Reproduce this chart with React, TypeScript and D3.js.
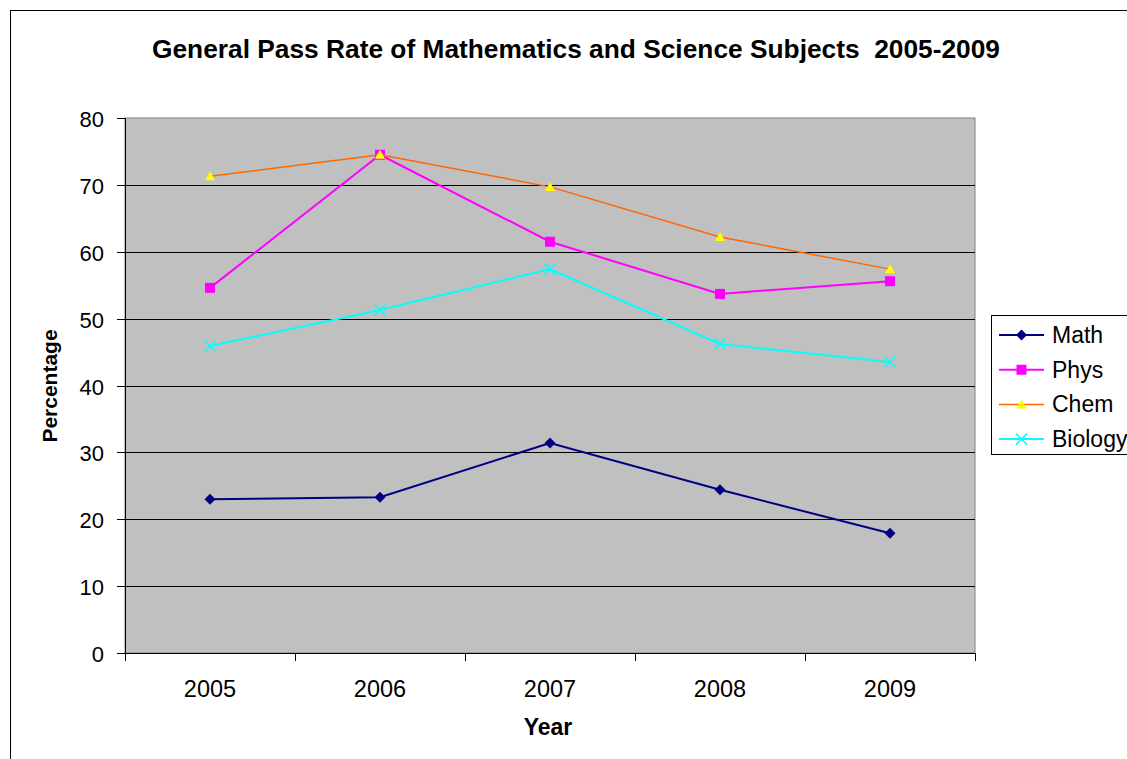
import { useEffect, useRef } from 'react';
import * as d3 from 'd3';

const years = ['2005', '2006', '2007', '2008', '2009'];
const math = [23.0, 23.3, 31.4, 24.4, 17.9];
const phys = [54.6, 74.5, 61.5, 53.7, 55.6];
const chem = [71.3, 74.5, 69.7, 62.2, 57.4];
const biology = [45.9, 51.3, 57.4, 46.2, 43.5];
const yTicks = [0, 10, 20, 30, 40, 50, 60, 70, 80];

const seriesList = [
  { name: 'Math', values: math, stroke: '#000080', fill: '#000080', marker: 'diamond', width: 2 },
  { name: 'Phys', values: phys, stroke: '#FF00FF', fill: '#FF00FF', marker: 'square', width: 2 },
  { name: 'Chem', values: chem, stroke: '#FF6600', fill: '#FFFF00', marker: 'triangle', width: 1.5 },
  { name: 'Biology', values: biology, stroke: '#00FFFF', fill: 'none', marker: 'x', width: 2 },
];

const W = 1127;
const H = 759;
const FONT = '"Liberation Sans", Arial, sans-serif';

const drawMarker = (g, type, x, y, stroke, fill) => {
  if (type === 'diamond') {
    g.append('path')
      .attr('d', `M${x},${y - 5.5}L${x + 5.5},${y}L${x},${y + 5.5}L${x - 5.5},${y}Z`)
      .attr('fill', fill);
  } else if (type === 'square') {
    g.append('rect')
      .attr('x', x - 5).attr('y', y - 5)
      .attr('width', 10).attr('height', 10)
      .attr('fill', fill);
  } else if (type === 'triangle') {
    g.append('path')
      .attr('d', `M${x},${y - 5}L${x + 5},${y + 4}L${x - 5},${y + 4}Z`)
      .attr('fill', fill);
  } else if (type === 'x') {
    g.append('path')
      .attr('d', `M${x - 5.5},${y - 5.5}L${x + 5.5},${y + 5.5}M${x - 5.5},${y + 5.5}L${x + 5.5},${y - 5.5}`)
      .attr('stroke', stroke)
      .attr('stroke-width', 1.5)
      .attr('fill', 'none');
  }
};

const App = () => {
  const svgRef = useRef();

  useEffect(() => {
    const svg = d3.select(svgRef.current);
    svg.selectAll('*').remove();

    const plot = { left: 125, top: 118, right: 975, bottom: 653 };

    const xScale = d3.scaleBand().domain(years).range([plot.left, plot.right]).padding(0);
    const yScale = d3.scaleLinear().domain([0, 80]).range([plot.bottom, plot.top]);
    const xc = (d) => xScale(d) + xScale.bandwidth() / 2;

    // outer chart border
    svg.append('rect')
      .attr('x', 10.5).attr('y', 10.5)
      .attr('width', W + 20).attr('height', H + 20)
      .attr('fill', '#fff')
      .attr('stroke', '#000')
      .attr('stroke-width', 1);

    // title
    svg.append('text')
      .attr('x', 576).attr('y', 58)
      .attr('text-anchor', 'middle')
      .attr('font-family', FONT)
      .attr('font-weight', 'bold')
      .attr('font-size', 25)
      .attr('textLength', 848)
      .attr('lengthAdjust', 'spacingAndGlyphs')
      .style('white-space', 'pre')
      .text('General Pass Rate of Mathematics and Science Subjects  2005-2009');

    // plot area
    svg.append('rect')
      .attr('x', plot.left).attr('y', plot.top)
      .attr('width', plot.right - plot.left).attr('height', plot.bottom - plot.top)
      .attr('fill', '#C0C0C0')
      .attr('stroke', '#808080')
      .attr('stroke-width', 1);

    // gridlines
    svg.append('g')
      .selectAll('line')
      .data(yTicks.filter(t => t > 0 && t < 80))
      .enter()
      .append('line')
      .attr('x1', plot.left).attr('x2', plot.right)
      .attr('y1', d => Math.round(yScale(d)) + 0.5)
      .attr('y2', d => Math.round(yScale(d)) + 0.5)
      .attr('stroke', '#000')
      .attr('stroke-width', 1);

    // y axis
    const yAxis = svg.append('g').attr('font-family', FONT);
    yAxis.append('line')
      .attr('x1', plot.left + 0.5).attr('x2', plot.left + 0.5)
      .attr('y1', plot.top).attr('y2', plot.bottom)
      .attr('stroke', '#000');
    yTicks.forEach(t => {
      const y = Math.round(yScale(t)) + 0.5;
      yAxis.append('line')
        .attr('x1', plot.left - 8).attr('x2', plot.left)
        .attr('y1', y).attr('y2', y)
        .attr('stroke', '#000');
      yAxis.append('text')
        .attr('x', 104).attr('y', y + 8)
        .attr('text-anchor', 'end')
        .attr('font-size', 22)
        .text(t);
    });

    // x axis
    const xAxis = svg.append('g').attr('font-family', FONT);
    xAxis.append('line')
      .attr('x1', plot.left).attr('x2', plot.right)
      .attr('y1', plot.bottom + 0.5).attr('y2', plot.bottom + 0.5)
      .attr('stroke', '#000');
    years.concat(['end']).forEach((d, i) => {
      const x = Math.round(plot.left + i * xScale.bandwidth()) + 0.5;
      xAxis.append('line')
        .attr('x1', x).attr('x2', x)
        .attr('y1', plot.bottom).attr('y2', plot.bottom + 8)
        .attr('stroke', '#000');
    });
    xAxis.selectAll('text.tick')
      .data(years)
      .enter()
      .append('text')
      .attr('x', d => xc(d))
      .attr('y', 697)
      .attr('text-anchor', 'middle')
      .attr('font-size', 23.5)
      .text(d => d);

    // axis titles
    svg.append('text')
      .attr('x', 548).attr('y', 735)
      .attr('text-anchor', 'middle')
      .attr('font-family', FONT)
      .attr('font-weight', 'bold')
      .attr('font-size', 23)
      .text('Year');
    svg.append('text')
      .attr('transform', `translate(57,386) rotate(-90)`)
      .attr('text-anchor', 'middle')
      .attr('font-family', FONT)
      .attr('font-weight', 'bold')
      .attr('font-size', 21)
      .text('Percentage');

    // series
    const line = d3.line()
      .x((_, i) => xc(years[i]))
      .y(d => yScale(d));

    seriesList.forEach(s => {
      const g = svg.append('g');
      g.append('path')
        .datum(s.values)
        .attr('fill', 'none')
        .attr('stroke', s.stroke)
        .attr('stroke-width', s.width)
        .attr('d', line);
      s.values.forEach((v, i) => {
        drawMarker(g, s.marker, xc(years[i]), yScale(v), s.stroke, s.fill);
      });
    });

    // legend
    const lg = svg.append('g').attr('font-family', FONT);
    lg.append('rect')
      .attr('x', 991.5).attr('y', 315.5)
      .attr('width', 160).attr('height', 139)
      .attr('fill', '#fff')
      .attr('stroke', '#000');
    seriesList.forEach((s, i) => {
      const y = 335 + i * 34.7;
      lg.append('line')
        .attr('x1', 999).attr('x2', 1044)
        .attr('y1', y).attr('y2', y)
        .attr('stroke', s.stroke)
        .attr('stroke-width', s.width);
      drawMarker(lg, s.marker, 1021.5, y, s.stroke, s.fill);
      lg.append('text')
        .attr('x', 1052).attr('y', y + 8)
        .attr('font-size', 23)
        .text(s.name);
    });
  }, []);

  return (
    <svg
      ref={svgRef}
      width={W}
      height={H}
      style={{ position: 'absolute', left: 0, top: 0, background: '#fff' }}
    ></svg>
  );
};

export default App;
